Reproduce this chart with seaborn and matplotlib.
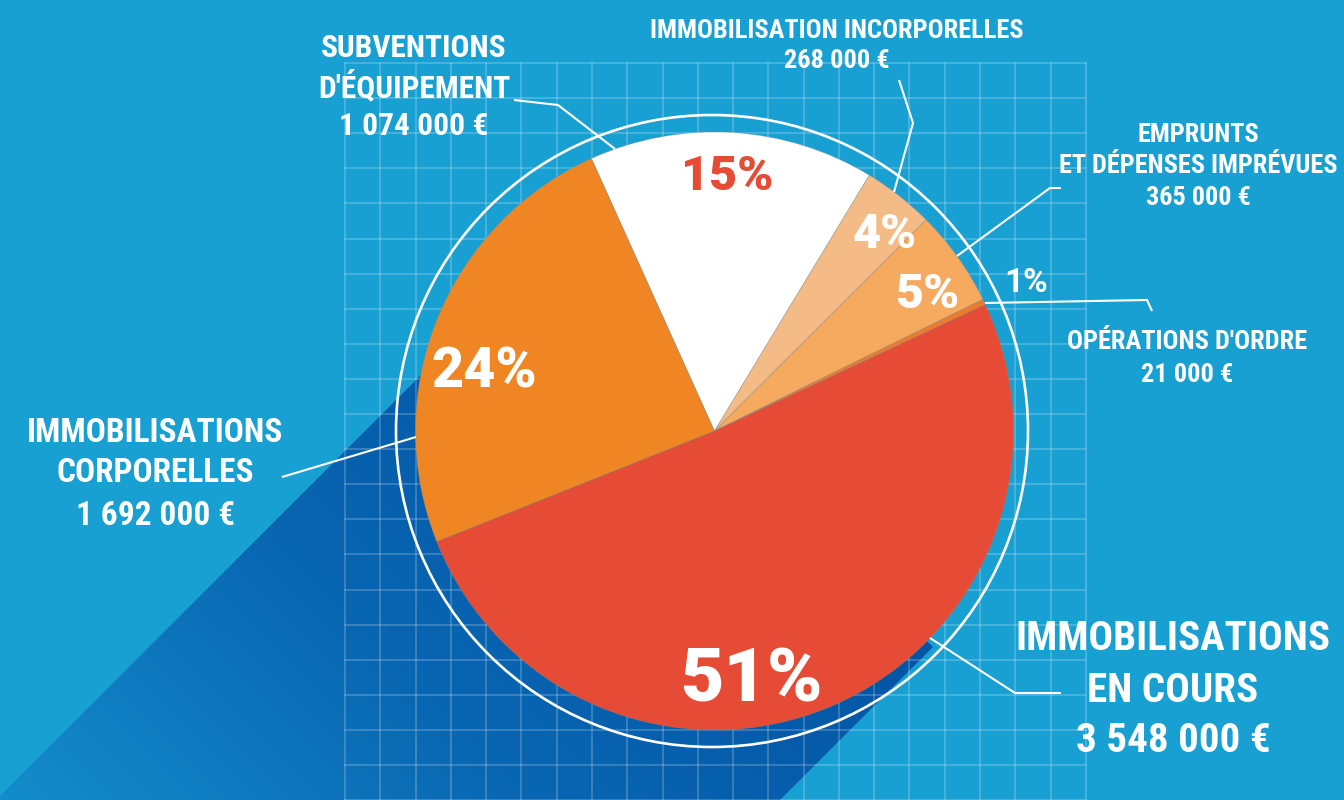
import numpy as np
import matplotlib
matplotlib.use("Agg")
import matplotlib.pyplot as plt
from matplotlib import font_manager
from matplotlib.patches import Circle, Polygon
from matplotlib.colors import LinearSegmentedColormap
import seaborn as sns

# ---------------- data ----------------
name_lines = [["SUBVENTIONS", "D'ÉQUIPEMENT"],
              ["IMMOBILISATION INCORPORELLES"],
              ["EMPRUNTS", "ET DÉPENSES IMPRÉVUES"],
              ["OPÉRATIONS D'ORDRE"],
              ["IMMOBILISATIONS", "EN COURS"],
              ["IMMOBILISATIONS", "CORPORELLES"]]
amounts = [1074000, 268000, 365000, 21000, 3548000, 1692000]
amount_labels = ["1 074 000 €", "268 000 €", "365 000 €", "21 000 €", "3 548 000 €", "1 692 000 €"]
percent_labels = ["15%", "4%", "5%", "1%", "51%", "24%"]

# ---------------- style ----------------
slice_colors = ["#ffffff", "#f5bb86", "#f6aa60", "#f07a2c", "#e64c35", "#f08623"]
pct_colors = ["#e64c35", "white", "white", "white", "white", "white"]
BG = "#19a0d3"

sns.set_style("white")
avail = {f.name for f in font_manager.fontManager.ttflist}
FONT = "Roboto Condensed" if "Roboto Condensed" in avail else "Roboto"
PFONT = "Roboto" if "Roboto" in avail else FONT
plt.rcParams["font.family"] = [FONT, "DejaVu Sans"]

W, H = 1344, 800
fig = plt.figure(figsize=(W / 100, H / 100), dpi=100, facecolor=BG)
ax = fig.add_axes([0, 0, 1, 1])
ax.set_facecolor(BG)


def Y(y_img):
    return H - y_img


CX, CY, R = 714.5, Y(431), 299

# ---------------- long shadow ----------------
band = Polygon([(460, 464), (-400, -396), (300, -480), (933, 153), (CX, CY)],
               closed=True, transform=ax.transData)
xs = np.linspace(0, W, 300)
ys = np.linspace(0, H, 180)
XX, YY = np.meshgrid(xs, ys)
T = XX + YY
cmap = LinearSegmentedColormap.from_list("sh", ["#1590cd", "#0966b2", "#0354a5"])
im = ax.imshow(T, extent=(0, W, 0, H), origin="lower", cmap=cmap, vmin=-50, vmax=1100,
               interpolation="bilinear", zorder=1, aspect="auto")
im.set_clip_path(band)

# ---------------- grid ----------------
gx = 345 + 35.28 * np.arange(22)
gy = Y(63 + 35.1 * np.arange(22))
for x in gx:
    ax.plot([x, x], [Y(63), 0], color="white", alpha=0.25, lw=1.1, zorder=2)
for y in gy:
    ax.plot([gx[0], gx[-1]], [y, y], color="white", alpha=0.25, lw=1.1, zorder=2)

# ---------------- pie ----------------
wedges, _ = ax.pie(amounts, colors=sns.color_palette(slice_colors), startangle=114.3,
                   counterclock=False, center=(CX, CY), radius=R,
                   wedgeprops=dict(linewidth=0.5, edgecolor=(0.55, 0.55, 0.55, 0.45)),
                   frame=False)
for w in wedges:
    w.set_zorder(3)

ax.add_patch(Circle((712, CY), 316, fill=False, ec="white", lw=1.9, zorder=4))

# ---------------- leader lines ----------------
leaders = [[(514, 100), (558, 105), (615, 149)],
           [(899, 80), (913, 123), (894, 192)],
           [(1061, 188), (1050, 188), (957, 256)],
           [(985, 303), (1147, 300), (1152, 311)],
           [(930, 638), (1015, 693), (1061, 693)],
           [(282, 477), (416, 437)]]
for pts in leaders:
    ax.plot([p[0] for p in pts], [Y(p[1]) for p in pts], color="white", lw=1.5,
            zorder=5, solid_capstyle="butt", solid_joinstyle="miter")

# ---------------- labels ----------------
# (x centre, baselines of each line, font size)
label_layout = [(414, [57, 97, 135], 22.6),
                (837, [38, 68], 19),
                (1198, [142, 173, 205], 18.9),
                (1187, [349, 382], 19),
                (1173, [650, 702, 752], 29.5),
                (155, [442, 482, 525], 24)]
for names, amt, (x, bases, fs) in zip(name_lines, amount_labels, label_layout):
    for txt, b in zip(names + [amt], bases):
        ax.text(x, Y(b), txt, ha="center", va="baseline", color="white",
                fontsize=fs, fontweight="bold", zorder=6)

pct_layout = [(727, 190, 35, "black"), (884.5, 248, 35, "black"), (927.5, 308, 35, "black"),
              (1026, 292, 24, "bold"), (751.5, 702, 54, "black"), (484.5, 387, 40, "black")]
for txt, col, (x, b, fs, wt) in zip(percent_labels, pct_colors, pct_layout):
    ax.text(x, Y(b), txt, ha="center", va="baseline", color=col,
            fontsize=fs, fontweight=wt, family=[PFONT, "DejaVu Sans"], zorder=6)

ax.set_xlim(0, W)
ax.set_ylim(0, H)
ax.set_aspect("equal", adjustable="box")
ax.axis("off")
fig.savefig("out.png", dpi=100, facecolor=BG)
